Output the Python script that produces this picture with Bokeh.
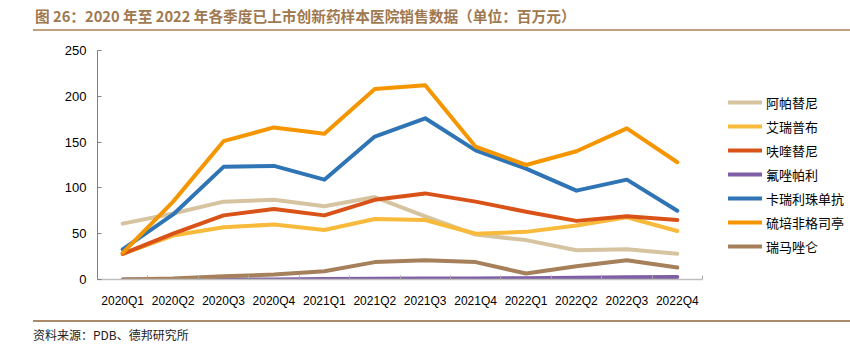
from bokeh.plotting import figure
from bokeh.layouts import column
from bokeh.models import (Legend, LegendItem, FixedTicker, Range1d, Div)
from bokeh.embed import file_html
from bokeh.resources import INLINE

quarters = ["2020Q1", "2020Q2", "2020Q3", "2020Q4", "2021Q1", "2021Q2",
            "2021Q3", "2021Q4", "2022Q1", "2022Q2", "2022Q3", "2022Q4"]
names = ["阿帕替尼", "艾瑞普布", "呋喹替尼", "氟唑帕利", "卡瑞利珠单抗", "硫培非格司亭", "瑞马唑仑"]
apatinib = [61, 72, 85, 87, 80, 90, 69, 49, 43, 32, 33, 28]
erui = [28, 48, 57, 60, 54, 66, 65, 50, 52, 59, 68, 53]
fruquintinib = [28, 50, 70, 77, 70, 87, 94, 85, 74, 64, 69, 65]
fluzoparib = [0, 0, 0, 0, 0.5, 0.8, 1.0, 1.2, 1.5, 2.0, 2.5, 2.7]
camrelizumab = [33, 71, 123, 124, 109, 156, 176, 141, 121, 97, 109, 75]
mecapegfilgrastim = [29, 85, 151, 166, 159, 208, 212, 145, 125, 140, 165, 128]
remimazolam = [0, 1, 3.5, 5.4, 9, 19, 21, 19, 6.5, 14.5, 21, 13]
y_ticks = [0, 50, 100, 150, 200, 250]
title_text = "图 26：2020 年至 2022 年各季度已上市创新药样本医院销售数据（单位：百万元）"
source_text = "资料来源：PDB、德邦研究所"

series = [apatinib, erui, fruquintinib, fluzoparib, camrelizumab, mecapegfilgrastim, remimazolam]
colors = ["#D6C4A0", "#F8BA3A", "#D95319", "#7E5EA5", "#2F75B5", "#F59500", "#A5805A"]

W = 850
HEAD_H, MAIN_H, FOOT_H = 35, 275, 39
LEFT, AXIS_W = 97, 605          # frame left edge and width of the category axis (px)
n = len(quarters)
x_end = (W - LEFT) / (AXIS_W / n)

head = Div(width=W, height=HEAD_H, margin=0, sizing_mode="fixed", text=(
    "<div style='position:relative;width:%dpx;height:%dpx;'>"
    "<div style='position:absolute;left:35px;top:6px;line-height:20px;white-space:nowrap;"
    "font-family:\"Noto Sans CJK SC\";font-weight:bold;font-size:14.7px;color:#A07850;'>%s</div>"
    "<div style='position:absolute;left:33px;top:28.5px;width:%dpx;height:2.5px;background:#C0A07E;'></div>"
    "</div>" % (W, HEAD_H, title_text, W - 33)))

foot = Div(width=W, height=FOOT_H, margin=0, sizing_mode="fixed", text=(
    "<div style='position:relative;width:%dpx;height:%dpx;'>"
    "<div style='position:absolute;left:33px;top:10px;width:%dpx;height:2px;background:#A88A68;'></div>"
    "<div style='position:absolute;left:33px;top:16px;line-height:18px;white-space:nowrap;"
    "font-family:\"Noto Sans CJK SC\";font-size:12px;color:#222222;'>%s</div>"
    "</div>" % (W, FOOT_H, W - 33, source_text)))

p = figure(width=W, height=MAIN_H, output_backend="svg", toolbar_location=None,
           x_range=Range1d(0, x_end), y_range=Range1d(0, 250),
           min_border_left=LEFT, min_border_right=0, min_border_top=15,
           min_border_bottom=30, sizing_mode="fixed", margin=0)
p.outline_line_color = None
p.xgrid.grid_line_color = None
p.ygrid.grid_line_color = None

xs = [i + 0.5 for i in range(n)]
items = []
for name, vals, c in zip(names, series, colors):
    r = p.line(xs, vals, line_color=c, line_width=4, line_join="round", line_cap="round")
    items.append(LegendItem(label=name, renderers=[r]))

xa = p.xaxis[0]
xa.bounds = (0, n)
xa.ticker = FixedTicker(ticks=xs, minor_ticks=list(range(n + 1)))
xa.major_label_overrides = {x: q for x, q in zip(xs, quarters)}
xa.major_tick_line_color = None
xa.minor_tick_in = 4
xa.minor_tick_out = 0
xa.minor_tick_line_color = "#A6A6A6"
xa.axis_line_color = "#BFBFBF"
xa.axis_line_width = 1.5
xa.major_label_standoff = 8
xa.major_label_text_font = "Liberation Sans"
xa.major_label_text_font_size = "12px"
xa.major_label_text_color = "#000000"

ya = p.yaxis[0]
ya.ticker = FixedTicker(ticks=y_ticks)
ya.minor_tick_line_color = None
ya.major_tick_in = 4
ya.major_tick_out = 0
ya.major_tick_line_color = "#808080"
ya.axis_line_color = "#808080"
ya.major_label_standoff = 11
ya.major_label_text_font = "Liberation Sans"
ya.major_label_text_font_size = "13px"
ya.major_label_text_color = "#000000"

legend = Legend(items=items, location=(631, 21), orientation="vertical",
                glyph_width=34, glyph_height=24, label_height=24, spacing=0,
                padding=0, margin=0, label_standoff=4,
                label_text_font="Noto Sans CJK SC", label_text_font_size="13px",
                label_text_color="#000000",
                border_line_color=None, background_fill_alpha=0)
p.add_layout(legend)

layout = column(head, p, foot, spacing=0)
open("out.html", "w").write(file_html(layout, INLINE))
